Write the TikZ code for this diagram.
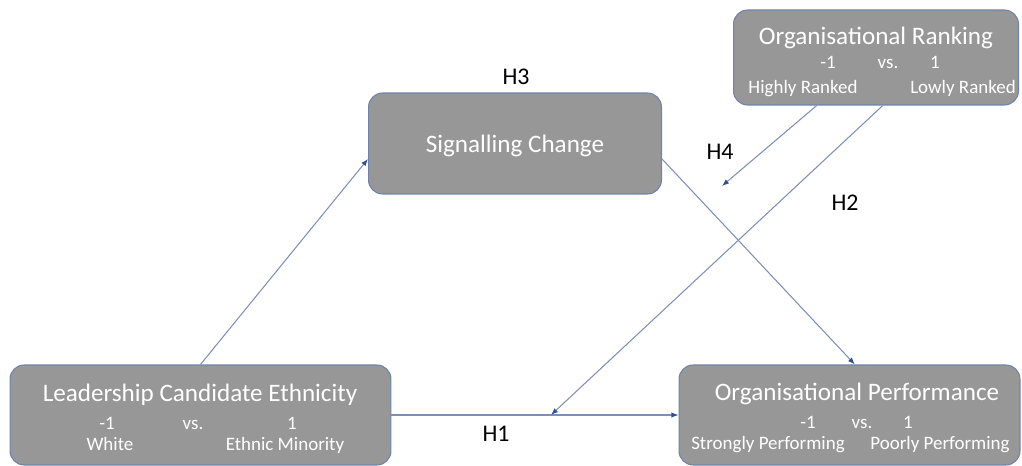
\documentclass[tikz,border=0pt]{standalone}
\usepackage{fontspec}
\setmainfont{Carlito}
\usetikzlibrary{arrows.meta}
\definecolor{boxfill}{HTML}{979797}
\definecolor{boxline}{HTML}{6F84A8}
\definecolor{linkline}{HTML}{7C90B8}
\definecolor{tipcol}{HTML}{2F528F}

\begin{document}
\begin{tikzpicture}[
    x=0.02cm, y=-0.02cm,
    every node/.style={inner sep=0pt},
    box/.style={rectangle, rounded corners=8pt, fill=boxfill, draw=boxline, line width=0.6pt},
    title/.style={text=white, text height=1.6ex, text depth=0.5ex, yshift=-1.8pt, font=\fontsize{14.3}{17}\selectfont},
    level/.style={text=white, text height=1.6ex, text depth=0.5ex, yshift=-1.5pt, font=\fontsize{10.8}{13}\selectfont},
    hyp/.style={text=black, text height=1.6ex, text depth=0.5ex, yshift=-1.8pt, font=\fontsize{13.6}{16}\selectfont},
    link/.style={draw=linkline, line width=0.6pt, -{Latex[length=4pt,width=3pt,color=tipcol]}}
    ]

    \useasboundingbox (0,0) rectangle (1022,466);

    % Boxes
    \node[box, minimum width=5.86cm, minimum height=2.02cm] (sig) at (515,143.5) {};
    \node[box, minimum width=5.7cm, minimum height=1.9cm] (rank) at (876,57.5) {};
    \node[box, minimum width=7.62cm, minimum height=2cm] (eth) at (200.5,415) {};
    \node[box, minimum width=6.82cm, minimum height=2cm] (perf) at (849.5,415) {};

    % Box texts
    \node[title] (sigTitle) at (515,145) {Signalling Change};

    \node[title] (rankTitle) at (876,37) {Organisational Ranking};
    \node[level] (rankNeg) at (828,61) {-1};
    \node[level] (rankVs) at (888,61) {vs.};
    \node[level] (rankPos) at (935,61) {1};
    \node[level] (rankHigh) at (803,86) {Highly Ranked};
    \node[level] (rankLow) at (963,86) {Lowly Ranked};

    \node[title] (ethTitle) at (200,394) {Leadership Candidate Ethnicity};
    \node[level] (ethNeg) at (107,422) {-1};
    \node[level] (ethVs) at (193,422) {vs.};
    \node[level] (ethPos) at (292,422) {1};
    \node[level] (ethWhite) at (110,443) {White};
    \node[level] (ethMin) at (285,443) {Ethnic Minority};

    \node[title] (perfTitle) at (857,393) {Organisational Performance};
    \node[level] (perfNeg) at (808,421) {-1};
    \node[level] (perfVs) at (862,421) {vs.};
    \node[level] (perfPos) at (908,421) {1};
    \node[level] (perfStrong) at (768,442) {Strongly Performing};
    \node[level] (perfPoor) at (940,442) {Poorly Performing};

    % Hypotheses
    \node[hyp] (h3) at (516,77) {H3};
    \node[hyp] (h4) at (720,152) {H4};
    \node[hyp] (h2) at (845,203) {H2};
    \node[hyp] (h1) at (496,434) {H1};

    % Connections
    \coordinate (h4end) at (722,186);
    \coordinate (h2end) at (551,415);

    \path[link] (eth.north) -- (sig.186);
    \path[link] (sig.354) -- (perf.84);
    \path[link] (eth.east) -- (perf.west);
    \path[link] (rank.219) -- (h4end);
    \path[link] (rank.278) -- (h2end);

\end{tikzpicture}
\end{document}
